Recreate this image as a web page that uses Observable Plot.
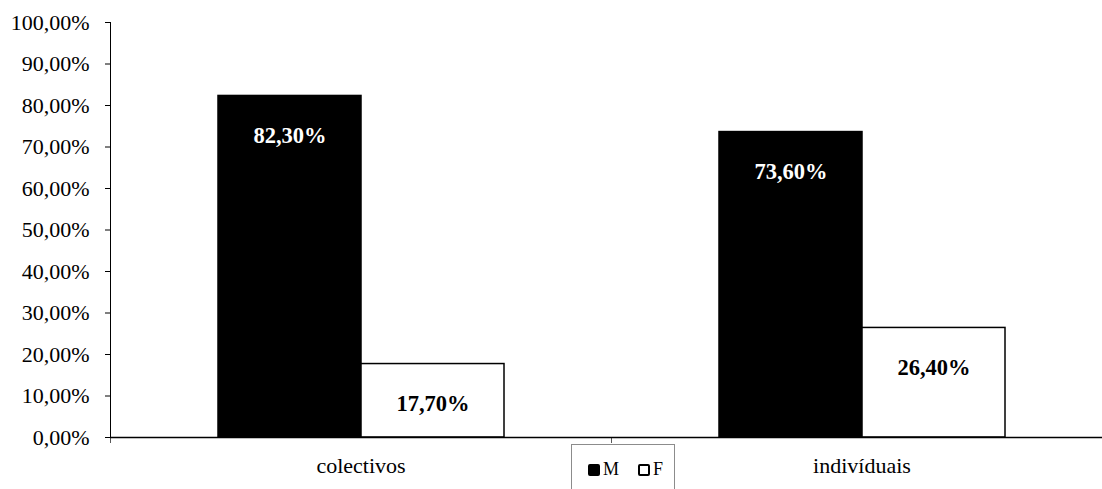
<!DOCTYPE html>
<html>
<head>
<meta charset="utf-8">
<script src="https://cdn.jsdelivr.net/npm/d3@7"></script>
<script src="https://cdn.jsdelivr.net/npm/@observablehq/plot@0.6"></script>
<style>
  html, body { margin: 0; padding: 0; background: #fff; }
  #wrap { position: relative; width: 1102px; height: 489px; overflow: hidden; }
  #chart svg text { font-family: "Liberation Serif", "Times New Roman", serif; }
  #legend {
    position: absolute; left: 571px; top: 444px; width: 104px; height: 60px;
    box-sizing: border-box; border: 1px solid #8c8c8c; background: #fff;
    font-family: "Liberation Serif", "Times New Roman", serif; font-size: 18px; color: #000;
  }
  #legend .item { position: absolute; top: 14px; display: flex; align-items: center; }
  #legend .sw { width: 12px; height: 12px; box-sizing: border-box; border-radius: 2px; margin-right: 3px; }
</style>
</head>
<body>
<div id="wrap">
  <div id="chart"></div>
  <div id="legend"></div>
</div>
<script>
// Share of M / F by type
const categories = ["colectivos", "indivíduais"];
const sexes = ["M", "F"];
const valuesM = [82.30, 73.60];
const valuesF = [17.70, 26.40];
const yTicks = [0, 10, 20, 30, 40, 50, 60, 70, 80, 90, 100];

const fillOf = {M: "#000", F: "#fff"};
const labelColor = {M: "#fff", F: "#000"};

const rows = [];
categories.forEach((c, i) => {
  rows.push({cat: c, sex: "M", value: valuesM[i]});
  rows.push({cat: c, sex: "F", value: valuesF[i]});
});

const fmt = v => v.toFixed(2).replace(".", ",") + "%";

const chart = Plot.plot({
  width: 1102,
  height: 489,
  marginLeft: 110,
  marginRight: -10,
  marginTop: 22,
  marginBottom: 52,
  style: {fontFamily: "'Liberation Serif', 'Times New Roman', serif", fontSize: "22px", color: "#000", background: "#fff"},
  fx: {domain: categories, padding: 0, label: null, tickSize: 0, tickPadding: 20},
  x: {domain: sexes, paddingInner: 0, paddingOuter: 0.7396, axis: null},
  y: {domain: [0, 100], ticks: yTicks, tickFormat: fmt, tickSize: 5, tickPadding: 16, label: null, line: true},
  marks: [
    // category boundary ticks below the baseline
    Plot.frame({anchor: "left", stroke: "#595959", insetTop: 415, insetBottom: -5}),
    Plot.barY(rows, {
      fx: "cat", x: "sex", y: "value",
      fill: d => fillOf[d.sex], stroke: "#000", strokeWidth: 1.5
    }),
    Plot.ruleY([0], {stroke: "#000", strokeWidth: 1.3}),
    Plot.text(rows, {
      fx: "cat", x: "sex", y: "value",
      text: d => fmt(d.value), dy: 40,
      fill: d => labelColor[d.sex], fontWeight: "bold", fontSize: 22.5
    })
  ]
});
chart.querySelectorAll("[aria-label='y-axis tick'], [aria-label='frame']").forEach(g => g.setAttribute("stroke", "#595959"));
document.getElementById("chart").appendChild(chart);

// legend
const legend = document.getElementById("legend");
const legendPos = {M: 16, F: 66};
sexes.forEach(s => {
  const item = document.createElement("div");
  item.className = "item";
  item.style.left = legendPos[s] + "px";
  const sw = document.createElement("span");
  sw.className = "sw";
  sw.style.background = fillOf[s];
  sw.style.border = "2px solid #000";
  const lab = document.createElement("span");
  lab.textContent = s;
  item.appendChild(sw);
  item.appendChild(lab);
  legend.appendChild(item);
});
</script>
</body>
</html>
